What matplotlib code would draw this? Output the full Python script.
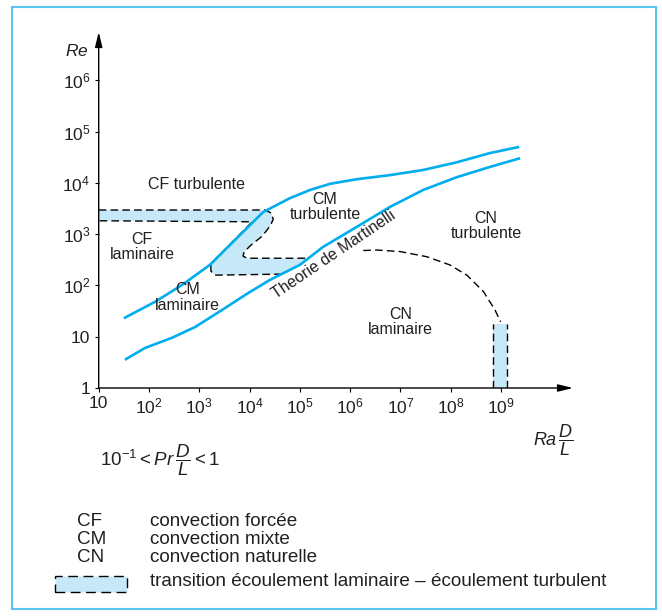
import matplotlib
matplotlib.use("Agg")
import matplotlib.pyplot as plt
import matplotlib.patches as mpatches
from matplotlib.ticker import NullLocator
import numpy as np

plt.rcParams['font.family'] = ['Liberation Sans', 'DejaVu Sans']
plt.rcParams['mathtext.fontset'] = 'custom'
plt.rcParams['mathtext.rm'] = 'Liberation Sans'
plt.rcParams['mathtext.it'] = 'Liberation Sans:italic'
plt.rcParams['mathtext.bf'] = 'Liberation Sans:bold'

# data (log10 values)
# courbe superieure (limite CF / CM)
haut_x = [1.50, 2.12, 2.66, 3.21, 3.61, 3.95, 4.27, 4.80, 5.20, 5.60, 6.13, 6.79, 7.45, 8.12, 8.78, 9.36]
haut_y = [1.36, 1.68, 2.01, 2.40, 2.79, 3.12, 3.43, 3.70, 3.86, 3.98, 4.07, 4.15, 4.25, 4.40, 4.58, 4.70]
# theorie de Martinelli
bas_x = [1.52, 1.92, 2.46, 2.92, 3.45, 3.97, 4.41, 5.00, 5.46, 6.13, 6.79, 7.45, 8.12, 8.78, 9.38]
bas_y = [0.55, 0.78, 0.98, 1.19, 1.52, 1.85, 2.11, 2.40, 2.75, 3.14, 3.53, 3.86, 4.11, 4.31, 4.48]
# zone de transition CF / CM (forme en Z)
z_x = [1.0, 4.31, 4.43, 4.47, 4.41, 4.25, 4.01, 3.89, 3.87, 3.95, 5.18,
       4.64, 3.31, 3.23, 3.23, 3.33, 4.05, 1.0]
z_y = [3.47, 3.47, 3.41, 3.29, 3.16, 2.96, 2.77, 2.65, 2.57, 2.53, 2.53,
       2.22, 2.20, 2.28, 2.40, 2.52, 3.24, 3.26]
# limite CN laminaire / turbulente
arc_x = [6.26, 6.53, 6.99, 7.52, 7.98, 8.32, 8.65, 8.88, 8.99]
arc_y = [2.68, 2.69, 2.66, 2.56, 2.40, 2.20, 1.88, 1.52, 1.29]
# transition CN
cn_x = [8.83, 9.11]
cn_haut = 1.24

x_ticks = [1, 2, 3, 4, 5, 6, 7, 8, 9]
y_ticks = [0, 1, 2, 3, 4, 5, 6]
x_labels = ['10'] + [r'$10^{%d}$' % k for k in x_ticks[1:]]
y_labels = ['1', '10'] + [r'$10^{%d}$' % k for k in y_ticks[2:]]

regions = [('CF turbulente', 2.95, 3.96, 0),
           ('CF\nlaminaire', 1.86, 2.75, 0),
           ('CM\nlaminaire', 2.76, 1.77, 0),
           ('CM\nturbulente', 5.50, 3.53, 0),
           ('CN\nturbulente', 8.70, 3.16, 0),
           ('CN\nlaminaire', 7.00, 1.29, 0),
           ('Theorie de Martinelli', 5.68, 2.60, 34)]

legende_abr = ['CF', 'CM', 'CN']
legende_txt = ['convection forcée', 'convection mixte', 'convection naturelle']

bleu = '#00AEEF'
bleu_clair = '#C6E8F8'
texte = '#231F20'
tirets = (0, (5.5, 3))

W, H = 662, 616


def px(x, y):
    return x / W, 1 - y / H


fig = plt.figure(figsize=(W / 100, H / 100), dpi=100)

# cadre
fig.patches.append(mpatches.Rectangle(px(12, 609), (656 - 12) / W, (609 - 7) / H,
                                      transform=fig.transFigure, fill=False,
                                      edgecolor='#5BC5F2', lw=1.5))

ax = fig.add_axes([98.7 / W, 1 - 388 / H, (573 - 98.7) / W, (388 - 32) / H])
ax.set_xscale('log')
ax.set_yscale('log')
ax.set_xlim(10 ** 1, 10 ** 10.43)
ax.set_ylim(10 ** 0, 10 ** 6.94)
ax.patch.set_alpha(0)
for s in ax.spines.values():
    s.set_visible(False)

# axes avec fleches
ax.annotate('', xy=(1, 0), xytext=(0, 0), xycoords='axes fraction',
            arrowprops=dict(arrowstyle='-|>,head_length=0.9,head_width=0.22',
                            mutation_scale=10, lw=1.0, color='black',
                            shrinkA=0, shrinkB=0))
ax.annotate('', xy=(0, 1), xytext=(0, 0), xycoords='axes fraction',
            arrowprops=dict(arrowstyle='-|>,head_length=0.9,head_width=0.22',
                            mutation_scale=10, lw=1.0, color='black',
                            shrinkA=0, shrinkB=0))

ax.set_xticks([10.0 ** k for k in x_ticks])
ax.set_xticklabels(x_labels)
ax.set_yticks([10.0 ** k for k in y_ticks])
ax.set_yticklabels(y_labels)
ax.xaxis.set_minor_locator(NullLocator())
ax.yaxis.set_minor_locator(NullLocator())
ax.tick_params(direction='out', length=3, width=0.8, labelsize=12.5,
               labelcolor=texte, pad=3)

# zone Z
zx = 10 ** np.array(z_x)
zy = 10 ** np.array(z_y)
ax.fill(zx, zy, color=bleu_clair, lw=0, zorder=1)
ax.plot(zx[:11], zy[:11], color='black', lw=1.0, ls=tirets, zorder=2)
ax.plot(zx[11:], zy[11:], color='black', lw=1.0, ls=tirets, zorder=2)

# barre CN
cx = 10 ** np.array(cn_x)
ax.fill_between(cx, 1, 10 ** cn_haut, color=bleu_clair, lw=0, zorder=1)
for xv in cx:
    ax.plot([xv, xv], [1, 10 ** cn_haut], color='black', lw=1.0, ls=tirets, zorder=2)

ax.plot(10 ** np.array(arc_x), 10 ** np.array(arc_y), color='black', lw=1.0,
        ls=tirets, zorder=2)

# courbes
ax.plot(10 ** np.array(haut_x), 10 ** np.array(haut_y), color=bleu, lw=1.9,
        zorder=3, solid_capstyle='butt')
ax.plot(10 ** np.array(bas_x), 10 ** np.array(bas_y), color=bleu, lw=1.9,
        zorder=3, solid_capstyle='butt')

for txt, xl, yl, rot in regions:
    ax.text(10 ** xl, 10 ** yl, txt, ha='center', va='center', fontsize=11.5,
            color=texte, rotation=rot, rotation_mode='anchor',
            linespacing=1.05, zorder=4)

# etiquettes des axes
fig.text(*px(77, 51), r'$Re$', ha='center', va='center', fontsize=12.5, color=texte)
fig.text(*px(553, 440), r'$Ra\,\dfrac{D}{L}$', ha='center', va='center',
         fontsize=13, color=texte)
fig.text(*px(100, 460), r'$10^{-1} < Pr\,\dfrac{D}{L} < 1$', ha='left',
         va='center', fontsize=13.5, color=texte)

# legende
for i, (a, t) in enumerate(zip(legende_abr, legende_txt)):
    yy = 521.7 + i * 18
    fig.text(*px(77, yy), a, ha='left', va='center', fontsize=13.6, color=texte)
    fig.text(*px(150, yy), t, ha='left', va='center', fontsize=13.6, color=texte)

fig.patches.append(mpatches.Rectangle(px(55, 592), (127 - 55) / W, 16 / H,
                                      transform=fig.transFigure,
                                      facecolor=bleu_clair, edgecolor='black',
                                      lw=1.0, ls=(0, (7, 4))))
fig.text(*px(150, 582), 'transition écoulement laminaire – écoulement turbulent',
         ha='left', va='center', fontsize=13.6, color=texte)

fig.savefig('out.png', dpi=100)
